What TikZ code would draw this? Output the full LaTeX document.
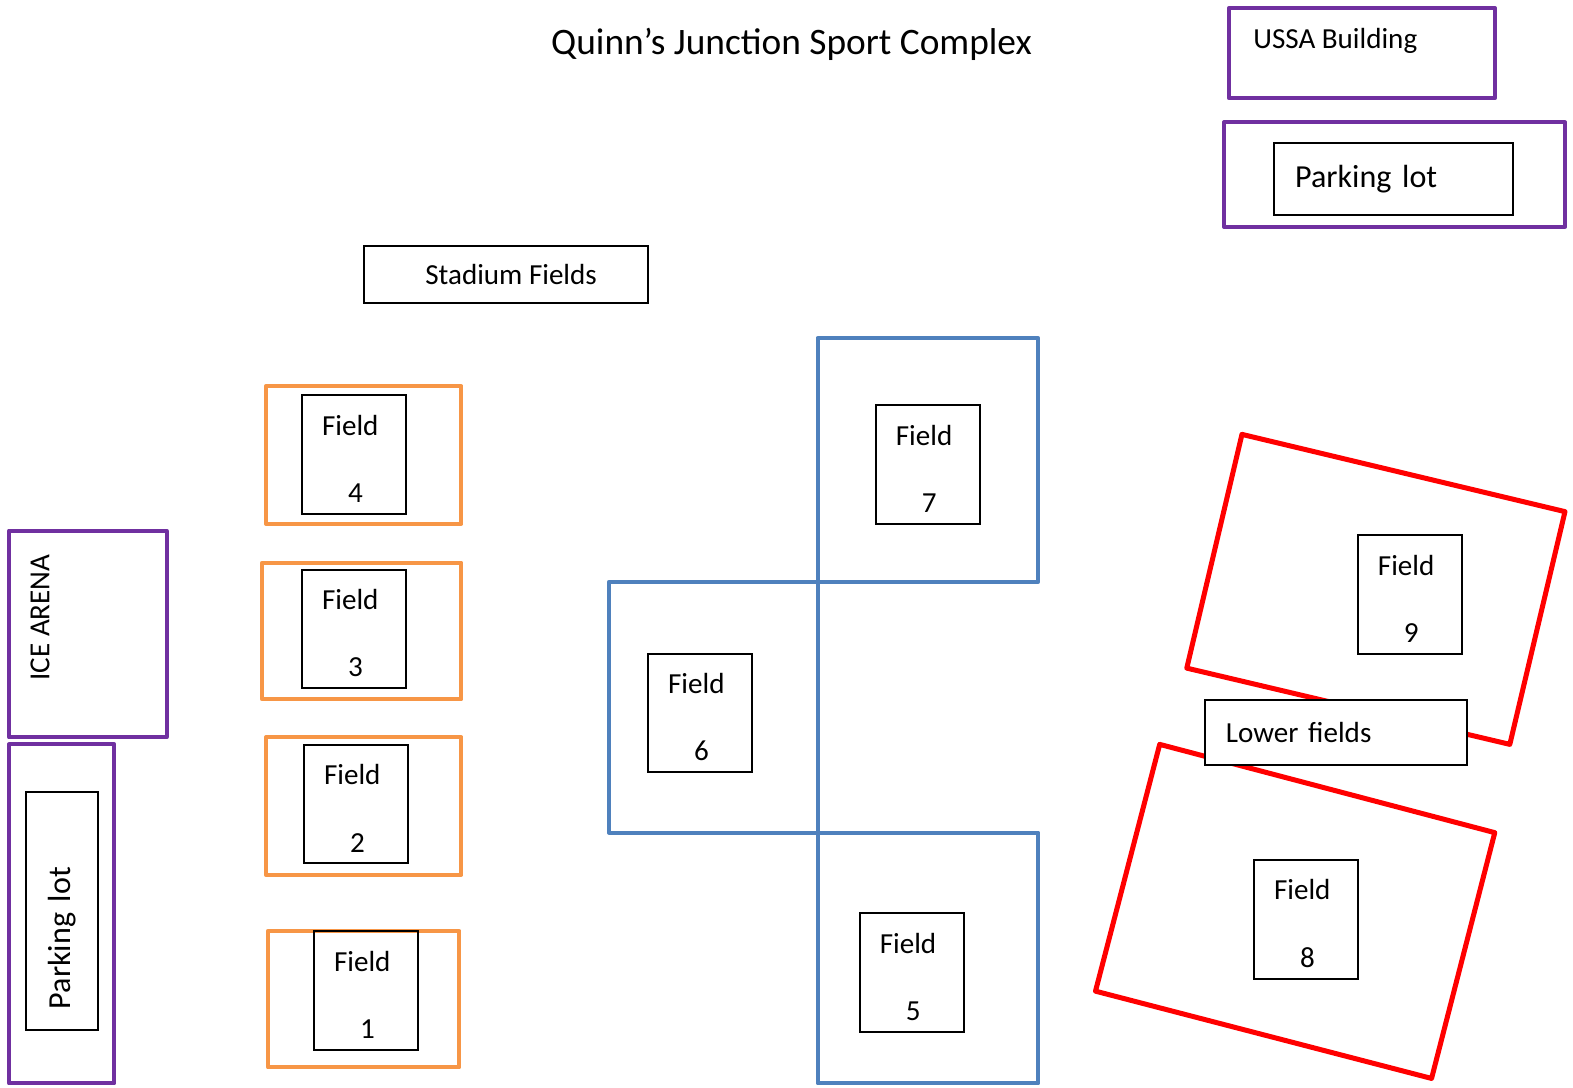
\documentclass[tikz,border=0pt]{standalone}
\usepackage{fontspec}
\setmainfont{Carlito}
\usetikzlibrary{positioning}
\definecolor{lotpurple}{HTML}{7030A0}
\definecolor{fieldorange}{HTML}{F79646}
\definecolor{fieldblue}{HTML}{4F81BD}
\definecolor{fieldred}{HTML}{FF0000}
\newcommand{\fieldtext}[1]{\rule{0pt}{0.57cm}Field\\[0.64cm]\hspace*{0.52cm}#1}

\begin{document}
\begin{tikzpicture}[x=0.02cm,y=-0.02cm,
  every node/.style={font=\fontsize{16.5}{20}\selectfont},
  fieldbox/.style={draw=black,line width=0.04cm,minimum width=2.08cm,
    minimum height=2.36cm,inner xsep=0.4cm,text width=1.28cm,align=left},
  signbox/.style={draw=black,line width=0.04cm,fill=white,align=left},
  purplearea/.style={draw=lotpurple,line width=0.08cm,line join=round},
  orangearea/.style={draw=fieldorange,line width=0.08cm,line join=round},
  bluearea/.style={draw=fieldblue,line width=0.08cm,line join=round},
  redarea/.style={draw=fieldred,line width=0.1cm,line join=round}]
\useasboundingbox (0,0) rectangle (1568,1084);

\node (title) at (789,44) {\fontsize{21.2}{25}\selectfont Quinn’s Junction Sport Complex};

% USSA building and its parking lot
\draw[purplearea] (1225,8) rectangle (1490,98);
\node[anchor=west,inner sep=0pt] (ussa) at (1249,41) {USSA Building};
\draw[purplearea] (1220,122) rectangle (1560,226);
\node[signbox,minimum width=4.76cm,minimum height=1.42cm,inner xsep=0.42cm,
  text width=3.92cm,font=\fontsize{18.2}{22}\selectfont] (toplot) at (1389,178.5) {Parking lot};

% ice arena and the lot beside it
\draw[purplearea] (9,529) rectangle (166,735);
\node[rotate=90] (arena) at (40,615.5) {ICE ARENA};
\draw[purplearea] (9,742) rectangle (114,1080);
\node[signbox,rotate=90,minimum width=4.76cm,minimum height=1.44cm,inner xsep=0.42cm,
  text width=3.92cm,font=\fontsize{18.2}{22}\selectfont] (sidelot) at (62,908) {Parking lot};

% stadium fields
\node[signbox,minimum width=5.66cm,minimum height=1.14cm,align=center] (stadium) at (504.5,273.5) {\hspace*{0.2cm}Stadium Fields};
\draw[orangearea] (265,385) rectangle (460,522);
\draw[orangearea] (261,561) rectangle (460,697);
\draw[orangearea] (265,735) rectangle (460,872);
\draw[orangearea] (267,928) rectangle (458,1064);
\node[fieldbox] (F4) at (353,453)    {\fieldtext{4}};
\node[fieldbox] (F3) at (353,627)    {\fieldtext{3}};
\node[fieldbox] (F2) at (355,801.5)  {\fieldtext{2}};
\node[fieldbox] (F1) at (365,987.5)  {\fieldtext{1}};

% middle fields
\draw[bluearea] (815,337) rectangle (1035,580);
\draw[bluearea] (607,580) rectangle (815,830);
\draw[bluearea] (815,830) rectangle (1035,1080);
\node[fieldbox] (F7) at (925,463)    {\fieldtext{7}};
\node[fieldbox] (F6) at (698,710.5)  {\fieldtext{6}};
\node[fieldbox] (F5) at (909,969.5)  {\fieldtext{5}};

% lower fields
\draw[redarea] (1238,433) -- (1560,510) -- (1505,742) -- (1183,666) -- cycle;
\draw[redarea] (1156,742) -- (1490,830) -- (1427,1075) -- (1092,988) -- cycle;
\node[fieldbox] (F9) at (1405.5,592.5) {\fieldtext{9}};
\node[fieldbox] (F8) at (1302,916.5)   {\fieldtext{8}};
\node[signbox,minimum width=5.22cm,minimum height=1.3cm,inner xsep=0.42cm,
  text width=4.38cm] (lower) at (1331.5,730.5) {Lower fields};
\end{tikzpicture}
\end{document}
